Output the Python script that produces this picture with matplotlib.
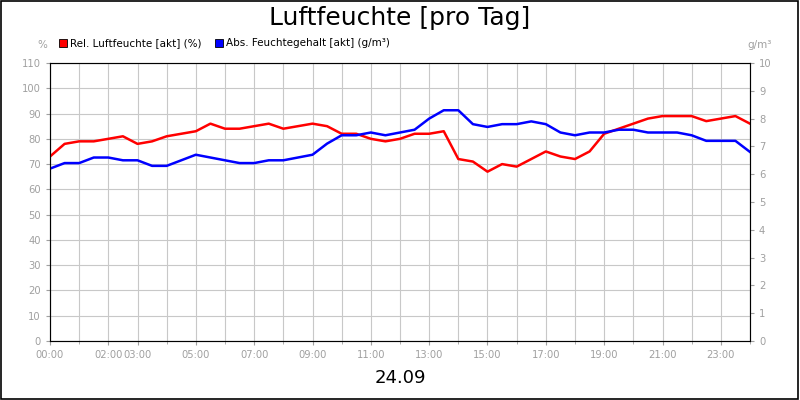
import matplotlib
matplotlib.use("Agg")
import matplotlib.pyplot as plt
from matplotlib.patches import Rectangle

# half-hour samples, 00:00 .. 24:00
hours = [i * 0.5 for i in range(49)]
rel_hum = [73, 78, 79, 79, 80, 81, 78, 79, 81, 82, 83, 86, 84, 84, 85, 86, 84, 85,
           86, 85, 82, 82, 80, 79, 80, 82, 82, 83, 72, 71, 67, 70, 69, 72, 75, 73,
           72, 75, 82, 84, 86, 88, 89, 89, 89, 87, 88, 89, 86]
abs_hum = [6.2, 6.4, 6.4, 6.6, 6.6, 6.5, 6.5, 6.3, 6.3, 6.5, 6.7, 6.6, 6.5, 6.4, 6.4,
           6.5, 6.5, 6.6, 6.7, 7.1, 7.4, 7.4, 7.5, 7.4, 7.5, 7.6, 8.0, 8.3, 8.3, 7.8,
           7.7, 7.8, 7.8, 7.9, 7.8, 7.5, 7.4, 7.5, 7.5, 7.6, 7.6, 7.5, 7.5, 7.5, 7.4,
           7.2, 7.2, 7.2, 6.8]
tick_hours = [0, 2, 3, 5, 7, 9, 11, 13, 15, 17, 19, 21, 23]
tick_labels = [f"{h:02d}:00" for h in tick_hours]

grey = "#a0a0a0"
fig = plt.figure(figsize=(8, 4), dpi=100)
fig.patches.append(Rectangle((0.001, 0.002), 0.997, 0.995, transform=fig.transFigure,
                             fill=False, edgecolor="black", linewidth=1.2))
ax = fig.add_axes([0.0625, 0.1475, 0.875, 0.695])
ax.plot(hours, rel_hum, color="#ff0000", linewidth=1.8)
ax.set_xlim(0, 24)
ax.set_ylim(0, 110)
ax.set_yticks(range(0, 111, 10))
ax.set_xticks(range(0, 25), minor=True)
ax.set_xticks(tick_hours)
ax.set_xticklabels(tick_labels)
ax.grid(True, which="both", axis="x", color="#c8c8c8", linewidth=0.8)
ax.grid(True, axis="y", color="#c8c8c8", linewidth=0.8)
ax.tick_params(colors=grey, labelsize=7.2, length=3)
ax.tick_params(which="minor", length=2, colors=grey)
for s in ax.spines.values():
    s.set_color("#606060")

ax2 = ax.twinx()
ax2.plot(hours, abs_hum, color="#0000ff", linewidth=1.8)
ax2.set_ylim(0, 10)
ax2.set_yticks(range(0, 11))
ax2.tick_params(colors=grey, labelsize=7.2, length=3)

fig.text(0.5, 0.955, "Luftfeuchte [pro Tag]", ha="center", va="center", fontsize=18)
fig.text(0.053, 0.88, "%", ha="center", fontsize=7.5, color=grey)
fig.text(0.95, 0.88, "g/m³", ha="center", fontsize=7.5, color=grey)
fig.patches.append(Rectangle((0.074, 0.882), 0.01, 0.02, transform=fig.transFigure,
                             facecolor="#ff0000", edgecolor="black", linewidth=0.6))
fig.text(0.088, 0.892, "Rel. Luftfeuchte [akt] (%)", va="center", fontsize=7.5)
fig.patches.append(Rectangle((0.269, 0.882), 0.01, 0.02, transform=fig.transFigure,
                             facecolor="#0000ff", edgecolor="black", linewidth=0.6))
fig.text(0.283, 0.892, "Abs. Feuchtegehalt [akt] (g/m³)", va="center", fontsize=7.5)
fig.text(0.5, 0.055, "24.09", ha="center", va="center", fontsize=13)

fig.savefig("out.png", dpi=100)
